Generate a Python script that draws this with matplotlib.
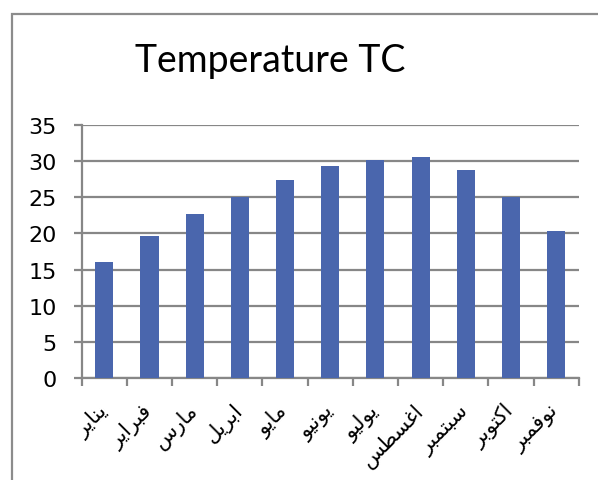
import numpy as np
import matplotlib
matplotlib.use('Agg')
import matplotlib.pyplot as plt
from matplotlib.patches import Rectangle

# Data
months = ['يناير', 'فبراير', 'مارس', 'ابريل', 'مايو', 'يونيو',
          'يوليو', 'اغسطس', 'سبتمبر', 'اكتوبر', 'نوفمبر']
temps = [16.0, 19.6, 22.7, 25.0, 27.4, 29.3, 30.2, 30.6, 28.8, 25.0, 20.4]
y_ticks = [0, 5, 10, 15, 20, 25, 30, 35]
title = 'Temperature TC'

# Minimal Arabic shaping (matplotlib has no complex text layout):
# isolated, final, initial, medial presentation forms
FORMS = {
    'ا': ('\uFE8D', '\uFE8E', None, None),
    'ب': ('\uFE8F', '\uFE90', '\uFE91', '\uFE92'),
    'ت': ('\uFE95', '\uFE96', '\uFE97', '\uFE98'),
    'ر': ('\uFEAD', '\uFEAE', None, None),
    'س': ('\uFEB1', '\uFEB2', '\uFEB3', '\uFEB4'),
    'ط': ('\uFEC1', '\uFEC2', '\uFEC3', '\uFEC4'),
    'غ': ('\uFECD', '\uFECE', '\uFECF', '\uFED0'),
    'ف': ('\uFED1', '\uFED2', '\uFED3', '\uFED4'),
    'ك': ('\uFED9', '\uFEDA', '\uFEDB', '\uFEDC'),
    'ل': ('\uFEDD', '\uFEDE', '\uFEDF', '\uFEE0'),
    'م': ('\uFEE1', '\uFEE2', '\uFEE3', '\uFEE4'),
    'ن': ('\uFEE5', '\uFEE6', '\uFEE7', '\uFEE8'),
    'و': ('\uFEED', '\uFEEE', None, None),
    'ي': ('\uFEF1', '\uFEF2', '\uFEF3', '\uFEF4'),
}


def shape_arabic(word):
    out = []
    for i, ch in enumerate(word):
        forms = FORMS.get(ch)
        if forms is None:
            out.append(ch)
            continue
        prev = word[i - 1] if i > 0 else None
        nxt = word[i + 1] if i + 1 < len(word) else None
        join_prev = prev in FORMS and FORMS[prev][2] is not None
        join_next = nxt in FORMS and forms[2] is not None
        if join_prev and join_next:
            out.append(forms[3])
        elif join_prev:
            out.append(forms[1])
        elif join_next:
            out.append(forms[2])
        else:
            out.append(forms[0])
    return ''.join(reversed(out))


W, H = 598, 481
fig = plt.figure(figsize=(W / 100, H / 100), dpi=100)
fig.patch.set_facecolor('white')

grid_col = '#878787'
bar_col = '#4a66ad'

ax = fig.add_axes([81.7 / W, 1 - 379 / H, (578.7 - 81.7) / W, (379 - 126) / H])
x = np.arange(len(months))
ax.bar(x, temps, width=0.4, color=bar_col, zorder=3)

ax.set_xlim(-0.5, len(months) - 0.5)
ax.set_ylim(0, 35)
ax.set_yticks(y_ticks)
ax.set_yticklabels([str(t) for t in y_ticks], fontsize=16, family='DejaVu Sans')
ax.yaxis.grid(True, color=grid_col, linewidth=1.6, zorder=1)

# category boundary ticks on x axis, labels at centres
ax.set_xticks(np.arange(-0.5, len(months), 1.0))
ax.set_xticklabels([])
ax.set_xticks(x, minor=True)
ax.set_xticklabels([shape_arabic(m) for m in months], minor=True,
                   rotation=45, ha='right', va='center', rotation_mode='anchor',
                   fontsize=15, family='DejaVu Sans')
ax.tick_params(axis='x', which='minor', length=0, pad=21)
ax.tick_params(axis='x', which='major', length=6, width=1.6, color=grid_col)
ax.tick_params(axis='y', length=6, width=1.6, color=grid_col, pad=12)

for side in ['top', 'right']:
    ax.spines[side].set_visible(False)
for side in ['left', 'bottom']:
    ax.spines[side].set_color(grid_col)
    ax.spines[side].set_linewidth(1.6)
ax.set_axisbelow(True)

fig.text(270 / W, 1 - 72 / H, title, ha='center', va='baseline',
         fontsize=27, family='Lato')

# chart border (only top-left part visible in the crop)
fig.add_artist(Rectangle((11.5 / W, -0.5), 2.0, 0.5 + 1 - 15 / H,
                         transform=fig.transFigure, fill=False,
                         edgecolor='#8c8c8c', linewidth=1.6))

fig.savefig('out.png', dpi=100)
